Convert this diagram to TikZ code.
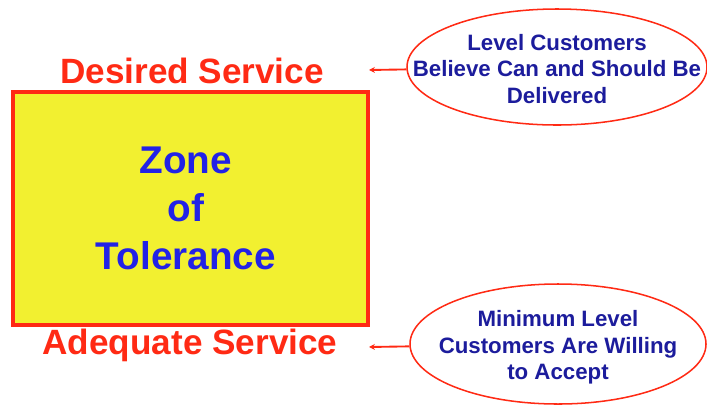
\documentclass[tikz,border=0pt]{standalone}
\usepackage{fontspec}
\setmainfont{Liberation Sans}
\usepackage{xcolor}
\usepackage{tikz}
\usetikzlibrary{shapes.geometric, arrows.meta, positioning}

\definecolor{zonered}{HTML}{FF2A14}
\definecolor{zoneyellow}{HTML}{F2F030}
\definecolor{zoneblue}{HTML}{2222E6}
\definecolor{ovalblue}{HTML}{1C1C9C}

\begin{document}
\begin{tikzpicture}[
        x=0.03cm, y=-0.03cm,
        zonebox/.style={rectangle, draw=zonered, line width=3pt, fill=zoneyellow,
            minimum width=10.65cm, minimum height=6.99cm, align=center,
            text=zoneblue, font=\bfseries\fontsize{33}{41}\selectfont},
        level/.style={text=zonered, inner sep=0pt, anchor=base,
            font=\bfseries\fontsize{30}{36}\selectfont},
        oval/.style={ellipse, draw=zonered, line width=1.3pt, inner sep=0pt},
        ovaltext/.style={align=center, text=ovalblue, inner sep=0pt,
            font=\bfseries\fontsize{19}{22.5}\selectfont},
        pointer/.style={draw=zonered, line width=1.6pt, -{Stealth[length=5pt, width=5pt]}}
    ]
    \useasboundingbox (0,0) rectangle (707,409);

    \node[zonebox] (zone) at (190.5,208.5) {\hspace*{-8pt}Zone\\\hspace*{-8pt}of\\\hspace*{-8pt}Tolerance};

    \node[level] (desired) at (192,83) {Desired Service};
    \node[level] (adequate) at (190,354) {Adequate Service};

    % expectation levels
    \node[oval, minimum width=9cm, minimum height=3.48cm,
        label={[ovaltext, yshift=-1.5pt]center:{Level Customers\\Believe Can and Should Be\\Delivered}}]
        (believe) at (557,67) {};
    \node[oval, minimum width=8.88cm, minimum height=3.6cm,
        label={[ovaltext, yshift=-3pt]center:{Minimum Level\\Customers Are Willing\\to Accept}}]
        (willing) at (558,344) {};

    \coordinate (desiredtip) at (369,70);
    \coordinate (adequatetip) at (369,347);

    \draw[pointer] (believe) -- (desiredtip);
    \draw[pointer] (willing) -- (adequatetip);

\end{tikzpicture}
\end{document}
